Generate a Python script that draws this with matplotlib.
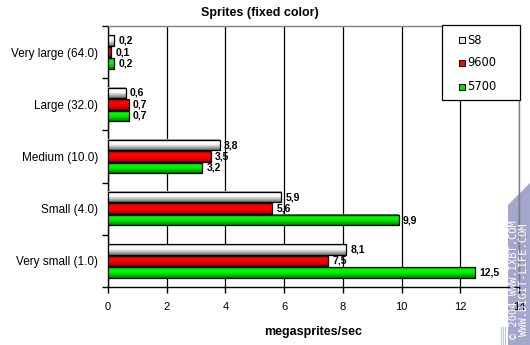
import matplotlib.pyplot as plt
import matplotlib.patches as mpatches
from matplotlib.colors import LinearSegmentedColormap
from matplotlib.lines import Line2D
import numpy as np

plt.rcParams['font.family'] = ['Liberation Sans', 'DejaVu Sans']

categories = ["Very large (64.0)", "Large (32.0)", "Medium (10.0)", "Small (4.0)", "Very small (1.0)"]
series = ["S8", "9600", "5700"]
s8 = [0.2, 0.6, 3.8, 5.9, 8.1]
r9600 = [0.1, 0.7, 3.5, 5.6, 7.5]
r5700 = [0.2, 0.7, 3.2, 9.9, 12.5]

# top-to-bottom shading of each bar
shades = [
    ["#a8a8a8", "#ffffff", "#f4f4f4", "#b0b0b0", "#6e6e6e"],
    ["#c00000", "#ff0000", "#ff0000", "#e00000", "#900000"],
    ["#00a800", "#00ff00", "#00f000", "#00c000", "#008000"],
]
swatch = ["#e6e6e6", "#ff0000", "#00dd00"]

W, H = 530, 345
fig = plt.figure(figsize=(W / 100, H / 100), dpi=100)
fig.patch.set_facecolor("white")
ax = fig.add_axes([108 / W, 1 - 287 / H, 411 / W, 261 / H])
ax.patch.set_alpha(0)

y = np.arange(len(categories))
h = 0.2
offsets = [-0.22, 0.0, 0.22]
grad = np.linspace(0, 1, 32).reshape(-1, 1)
for vals, shade, off in zip([s8, r9600, r5700], shades, offsets):
    cmap = LinearSegmentedColormap.from_list("bar", shade)
    for yc, v in zip(y + off, vals):
        ax.imshow(grad, cmap=cmap, aspect="auto", origin="upper",
                  extent=(0, v, yc + h / 2, yc - h / 2), zorder=3,
                  interpolation="bilinear")
    bars = ax.barh(y + off, vals, height=h, facecolor="none", edgecolor="black",
                   linewidth=0.9, zorder=4)
    for b, v in zip(bars, vals):
        ax.text(b.get_width() + 0.15, b.get_y() + b.get_height() / 2,
                f"{v:.1f}".replace(".", ","), va="center", ha="left",
                fontsize=7.5, fontweight="bold", zorder=5)

ax.set_xlim(0, 14)
ax.set_ylim(4.5, -0.5)
ax.set_xticks(np.arange(0, 15, 2))
ax.set_yticks(np.arange(-0.5, 5, 1))
ax.set_yticklabels([])
ax.set_yticks(y, minor=True)
ax.set_yticklabels(categories, minor=True)
ax.tick_params(axis="y", which="minor", length=0, labelsize=8.5, pad=7)
ax.tick_params(axis="y", which="major", length=4, direction="out", width=1)
ax.tick_params(axis="x", labelsize=8, length=4, direction="out", width=1, pad=7)
ax.grid(axis="x", color="black", linewidth=0.9, zorder=0)
for s in ["top", "right"]:
    ax.spines[s].set_color("#808080")
    ax.spines[s].set_linewidth(1.0)
ax.spines["left"].set_linewidth(1.0)
ax.spines["bottom"].set_linewidth(1.0)

fig.text(260 / W, 1 - 13 / H, "Sprites (fixed color)", fontsize=9,
         fontweight="bold", ha="center", va="center")
ax.set_xlabel("megasprites/sec", fontsize=9, fontweight="bold", labelpad=10)

# legend box
fig.add_artist(mpatches.Rectangle((442 / W, 1 - 100 / H), 78 / W, 75 / H,
                                  transform=fig.transFigure, facecolor="white",
                                  edgecolor="black", linewidth=0.9, zorder=6))
for name, col, ry in zip(series, swatch, [40, 63, 87]):
    fig.add_artist(mpatches.Rectangle((459 / W, 1 - (ry + 3) / H), 6 / W, 6 / H,
                                      transform=fig.transFigure, facecolor=col,
                                      edgecolor="black", linewidth=0.7, zorder=7))
    fig.text(467 / W, 1 - ry / H, name, fontsize=8.3, family="DejaVu Sans",
             ha="left", va="center", zorder=7)

# site stamp on the right edge, behind the axes
fig.add_artist(mpatches.Polygon([(508 / W, 0), (508 / W, 1 - 205 / H),
                                 (1, 1 - 183 / H), (1, 0)],
                                transform=fig.transFigure, facecolor="#a4a6cc",
                                edgecolor="none", zorder=-1))
for sx in [501, 503, 505]:
    fig.add_artist(Line2D([sx / W, sx / W], [0, 1 - 327 / H],
                          transform=fig.transFigure, color="#c4c6e0",
                          linewidth=0.8, zorder=-1))
fig.text(519 / W, 1 - 339 / H, "© 2004 WWW.IXBT.COM\nWWW.DIGIT-LIFE.COM",
         rotation=90, fontsize=7.5, color="white", ha="center", va="bottom",
         linespacing=0.95, family="DejaVu Sans Mono", zorder=9)

fig.savefig("out.png", dpi=100)
